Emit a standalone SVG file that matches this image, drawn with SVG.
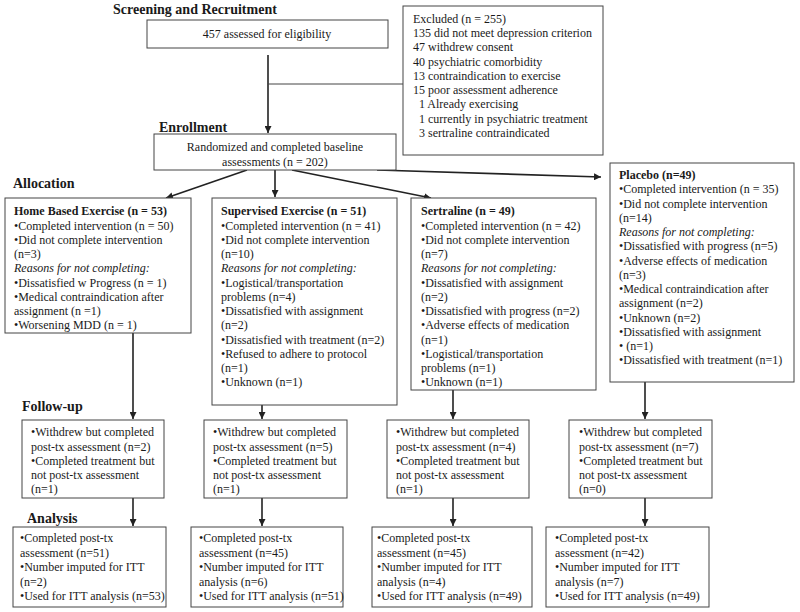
<svg xmlns="http://www.w3.org/2000/svg" width="800" height="612" viewBox="0 0 800 612">
<defs>
<marker id="ah" viewBox="0 0 10 10" refX="10" refY="5" markerWidth="7" markerHeight="7" markerUnits="userSpaceOnUse" orient="auto">
<path d="M0,0 L10,5 L0,10 z" fill="#222"/>
</marker>
</defs>
<style>
text{font-family:"Liberation Serif","Times New Roman",serif;fill:#1a1a1a;font-size:12px}
.h{font-weight:bold;font-size:14px}
.b{font-weight:bold}
.i{font-style:italic}
.box{fill:#fff;stroke:#444;stroke-width:1}
.c{stroke:#222;stroke-width:1.6;fill:none}
.c2{stroke:#444;stroke-width:1;fill:none}
</style>
<rect width="800" height="612" fill="#fff"/>
<g id="labels">
<text class="h" x="113" y="14">Screening and Recruitment</text>
<text class="h" x="159" y="132">Enrollment</text>
<text class="h" x="13" y="188">Allocation</text>
<text class="h" x="22" y="411">Follow-up</text>
<text class="h" x="27" y="523">Analysis</text>
</g>
<g id="connectors">
<line class="c" x1="268" y1="55" x2="268" y2="133" marker-end="url(#ah)"/>
<line class="c2" x1="268" y1="84" x2="403" y2="84"/>
<line class="c" x1="247" y1="170" x2="166" y2="198" marker-end="url(#ah)"/>
<line class="c" x1="275" y1="170" x2="275" y2="197" marker-end="url(#ah)"/>
<line class="c" x1="292" y1="170" x2="431" y2="198" marker-end="url(#ah)"/>
<line class="c" x1="377" y1="170" x2="601" y2="177" marker-end="url(#ah)"/>
<line class="c" x1="133" y1="333" x2="133" y2="419" marker-end="url(#ah)"/>
<line class="c" x1="262" y1="405" x2="262" y2="419" marker-end="url(#ah)"/>
<line class="c" x1="453" y1="390" x2="453" y2="419" marker-end="url(#ah)"/>
<line class="c" x1="645" y1="382" x2="645" y2="419" marker-end="url(#ah)"/>
<line class="c" x1="133" y1="498" x2="133" y2="526" marker-end="url(#ah)"/>
<line class="c" x1="262" y1="498" x2="262" y2="526" marker-end="url(#ah)"/>
<line class="c" x1="453" y1="498" x2="453" y2="526" marker-end="url(#ah)"/>
<line class="c" x1="645" y1="498" x2="645" y2="526" marker-end="url(#ah)"/>
</g>
<g id="assessed">
<rect class="box" x="147" y="20" width="241" height="28"/>
<text x="267" y="38" text-anchor="middle">457 assessed for eligibility</text>
</g>
<g id="excluded">
<rect class="box" x="403" y="6" width="200" height="149"/>
<text x="413" y="22.5">Excluded (n = 255)</text>
<text x="413" y="37">135 did not meet depression criterion</text>
<text x="413" y="51">47 withdrew consent</text>
<text x="413" y="65.5">40 psychiatric comorbidity</text>
<text x="413" y="79.5">13 contraindication to exercise</text>
<text x="413" y="94">15 poor assessment adherence</text>
<text x="419" y="108">1 Already exercising</text>
<text x="419" y="122.5">1 currently in psychiatric treatment</text>
<text x="419" y="137">3 sertraline contraindicated</text>
</g>
<g id="randomized">
<rect class="box" x="154" y="134" width="242" height="36"/>
<text x="275" y="151" text-anchor="middle">Randomized and completed baseline</text>
<text x="275" y="166" text-anchor="middle">assessments (n = 202)</text>
</g>
<g id="home">
<rect class="box" x="5" y="198" width="186" height="135"/>
<text class="b" x="14" y="215">Home Based Exercise (n = 53)</text>
<text x="14" y="230">•Completed intervention (n = 50)</text>
<text x="14" y="244">•Did not complete intervention</text>
<text x="14" y="258">(n=3)</text>
<text class="i" x="14" y="272">Reasons for not completing:</text>
<text x="14" y="287">•Dissatisfied w Progress (n = 1)</text>
<text x="14" y="301">•Medical contraindication after</text>
<text x="14" y="315">assignment (n =1)</text>
<text x="14" y="329">•Worsening MDD (n = 1)</text>
</g>
<g id="supervised">
<rect class="box" x="212" y="198" width="185" height="207"/>
<text class="b" x="221" y="215">Supervised Exercise (n = 51)</text>
<text x="221" y="230">•Completed intervention (n = 41)</text>
<text x="221" y="244">•Did not complete intervention</text>
<text x="221" y="258">(n=10)</text>
<text class="i" x="221" y="272">Reasons for not completing:</text>
<text x="221" y="287">•Logistical/transportation</text>
<text x="221" y="301">problems (n=4)</text>
<text x="221" y="315">•Dissatisfied with assignment</text>
<text x="221" y="329">(n=2)</text>
<text x="221" y="344">•Dissatisfied with treatment (n=2)</text>
<text x="221" y="358">•Refused to adhere to protocol</text>
<text x="221" y="372">(n=1)</text>
<text x="221" y="386">•Unknown (n=1)</text>
</g>
<g id="sertraline">
<rect class="box" x="411" y="198" width="185" height="192"/>
<text class="b" x="421" y="215">Sertraline (n = 49)</text>
<text x="421" y="230">•Completed intervention (n = 42)</text>
<text x="421" y="244">•Did not complete intervention</text>
<text x="421" y="258">(n=7)</text>
<text class="i" x="421" y="272">Reasons for not completing:</text>
<text x="421" y="287">•Dissatisfied with assignment</text>
<text x="421" y="301">(n=2)</text>
<text x="421" y="315">•Dissatisfied with progress (n=2)</text>
<text x="421" y="329">•Adverse effects of medication</text>
<text x="421" y="344">(n=1)</text>
<text x="421" y="358">•Logistical/transportation</text>
<text x="421" y="372">problems (n=1)</text>
<text x="421" y="386">•Unknown (n=1)</text>
</g>
<g id="placebo">
<rect class="box" x="610" y="163" width="184" height="219"/>
<text class="b" x="619" y="179">Placebo (n=49)</text>
<text x="619" y="193">•Completed intervention (n = 35)</text>
<text x="619" y="207.5">•Did not complete intervention</text>
<text x="619" y="222">(n=14)</text>
<text class="i" x="619" y="236">Reasons for not completing:</text>
<text x="619" y="250">•Dissatisfied with progress (n=5)</text>
<text x="619" y="265">•Adverse effects of medication</text>
<text x="619" y="279">(n=3)</text>
<text x="619" y="293">•Medical contraindication after</text>
<text x="619" y="307">assignment (n=2)</text>
<text x="619" y="322">•Unknown (n=2)</text>
<text x="619" y="336">•Dissatisfied with assignment</text>
<text x="619" y="350">• (n=1)</text>
<text x="619" y="364">•Dissatisfied with treatment (n=1)</text>
</g>
<g id="fu-home">
<rect class="box" x="22" y="420" width="142" height="78"/>
<text x="31" y="436">•Withdrew but completed</text>
<text x="31" y="451">post-tx assessment (n=2)</text>
<text x="31" y="465">•Completed treatment but</text>
<text x="31" y="479">not post-tx assessment</text>
<text x="31" y="493">(n=1)</text>
</g>
<g id="fu-supervised">
<rect class="box" x="204" y="420" width="143" height="78"/>
<text x="213" y="436">•Withdrew but completed</text>
<text x="213" y="451">post-tx assessment (n=5)</text>
<text x="213" y="465">•Completed treatment but</text>
<text x="213" y="479">not post-tx assessment</text>
<text x="213" y="493">(n=1)</text>
</g>
<g id="fu-sertraline">
<rect class="box" x="387" y="420" width="142" height="78"/>
<text x="396" y="436">•Withdrew but completed</text>
<text x="396" y="451">post-tx assessment (n=4)</text>
<text x="396" y="465">•Completed treatment but</text>
<text x="396" y="479">not post-tx assessment</text>
<text x="396" y="493">(n=1)</text>
</g>
<g id="fu-placebo">
<rect class="box" x="569" y="420" width="143" height="78"/>
<text x="579" y="436">•Withdrew but completed</text>
<text x="579" y="451">post-tx assessment (n=7)</text>
<text x="579" y="465">•Completed treatment but</text>
<text x="579" y="479">not post-tx assessment</text>
<text x="579" y="493">(n=0)</text>
</g>
<g id="an-home">
<rect class="box" x="13" y="527" width="153" height="80"/>
<text x="20" y="542">•Completed post-tx</text>
<text x="20" y="557">assessment (n=51)</text>
<text x="20" y="571">•Number imputed for ITT</text>
<text x="20" y="586">(n=2)</text>
<text x="20" y="600">•Used for ITT analysis (n=53)</text>
</g>
<g id="an-supervised">
<rect class="box" x="191" y="527" width="152" height="80"/>
<text x="199" y="542">•Completed post-tx</text>
<text x="199" y="557">assessment (n=45)</text>
<text x="199" y="571">•Number imputed for ITT</text>
<text x="199" y="586">analysis (n=6)</text>
<text x="199" y="600">•Used for ITT analysis (n=51)</text>
</g>
<g id="an-sertraline">
<rect class="box" x="372" y="527" width="160" height="80"/>
<text x="377" y="542">•Completed post-tx</text>
<text x="377" y="557">assessment (n=45)</text>
<text x="377" y="571">•Number imputed for ITT</text>
<text x="377" y="586">analysis (n=4)</text>
<text x="377" y="600">•Used for ITT analysis (n=49)</text>
</g>
<g id="an-placebo">
<rect class="box" x="546" y="527" width="163" height="80"/>
<text x="555" y="542">•Completed post-tx</text>
<text x="555" y="557">assessment (n=42)</text>
<text x="555" y="571">•Number imputed for ITT</text>
<text x="555" y="586">analysis (n=7)</text>
<text x="555" y="600">•Used for ITT analysis (n=49)</text>
</g>
</svg>
